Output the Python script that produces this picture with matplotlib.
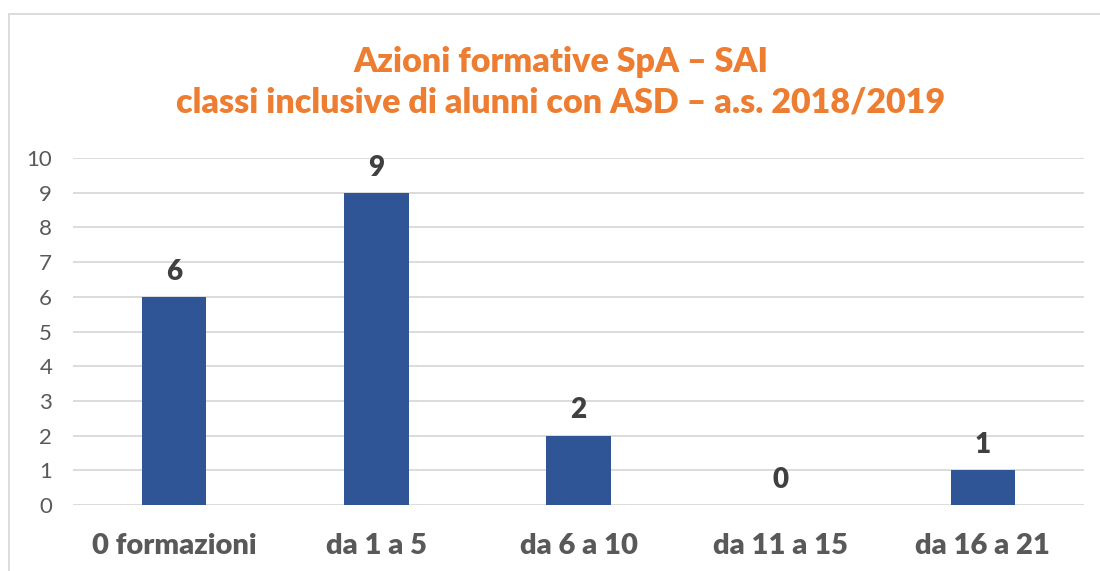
#!/usr/bin/env python3
"""Bar chart of training actions per class"""
import matplotlib
matplotlib.use("Agg")
import matplotlib.pyplot as plt
from matplotlib.patches import Rectangle

categories = ["0 formazioni", "da 1 a 5", "da 6 a 10", "da 11 a 15", "da 16 a 21"]
values = [6, 9, 2, 0, 1]
yticks = list(range(0, 11))

plt.rcParams['font.family'] = ['Lato', 'DejaVu Sans']

fig = plt.figure(figsize=(11, 5.71), dpi=100)
ax = fig.add_axes([73 / 1100, 1 - 505 / 571, 1011 / 1100, 347 / 571])

x = range(len(categories))
ax.bar(x, values, width=0.32, color="#2F5597", zorder=3)
for i, v in zip(x, values):
    ax.text(i, v + 0.35, str(v), ha="center", va="bottom", fontsize=20,
            fontweight="heavy", color="#404040")

ax.set_xlim(-0.5, len(categories) - 0.5)
ax.set_ylim(0, 10)
ax.set_yticks(yticks)
ax.set_xticks(list(x))
ax.set_xticklabels(categories, fontsize=21, fontweight="heavy", color="#595959")
ax.tick_params(axis="y", labelsize=16, labelcolor="#595959", length=0, pad=15)
ax.tick_params(axis="x", length=0, pad=20)
ax.grid(axis="y", color="#D9D9D9", linewidth=1.3, zorder=0)
for s in ax.spines.values():
    s.set_visible(False)

fig.text(0.51, 1 - 62 / 571, "Azioni formative SpA – SAI", ha="center",
         va="center", fontsize=24.5, fontweight="heavy", color="#ED7D31")
fig.text(0.51, 1 - 102 / 571,
         "classi inclusive di alunni con ASD – a.s. 2018/2019", ha="center",
         va="center", fontsize=24.5, fontweight="heavy", color="#ED7D31")

# chart frame (only left/top visible in the crop)
fig.patches.append(Rectangle((9 / 1100, -0.1), 1.2, 1 - 14 / 571 + 0.1,
                             transform=fig.transFigure, fill=False,
                             edgecolor="#D9D9D9", linewidth=1.3))

fig.savefig("out.png", dpi=100)
